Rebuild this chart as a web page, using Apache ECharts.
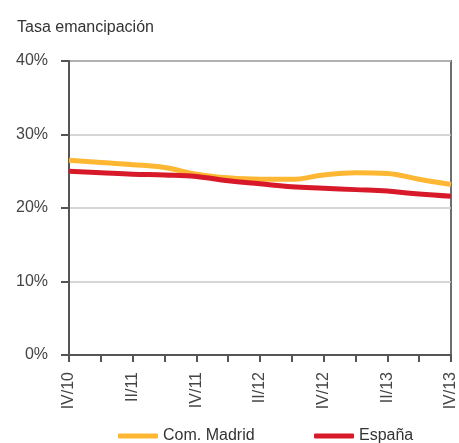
<!DOCTYPE html>
<html>
<head>
<meta charset="utf-8">
<script src="https://cdn.jsdelivr.net/npm/echarts@6/dist/echarts.min.js"></script>
<style>
html,body{margin:0;padding:0;background:#fff;}
#chart{width:459px;height:443px;}
</style>
</head>
<body>
<div id="chart"></div>
<script>
const categories = ['IV/10','I/11','II/11','III/11','IV/11','I/12','II/12','III/12','IV/12','I/13','II/13','III/13','IV/13'];
const madrid = [26.5, 26.2, 25.9, 25.5, 24.6, 24.1, 23.9, 23.9, 24.5, 24.8, 24.7, 23.9, 23.2];
const espana = [25.0, 24.8, 24.6, 24.5, 24.3, 23.7, 23.3, 22.9, 22.7, 22.5, 22.3, 21.9, 21.6];
const yTicks = [0, 10, 20, 30, 40];

const chart = echarts.init(document.getElementById('chart'), null, {renderer: 'canvas'});
const font = '"Liberation Sans", Arial, sans-serif';
const legendText = {fontFamily: font, fontSize: 16, color: '#333'};
chart.setOption({
  animation: false,
  backgroundColor: '#fff',
  title: {
    text: 'Tasa emancipación',
    left: 12, top: 15,
    textStyle: {fontFamily: font, fontSize: 16, fontWeight: 'normal', color: '#333'}
  },
  grid: {
    left: 69, right: 7, top: 61, bottom: 88,
    show: true, borderColor: '#6e6e6e', borderWidth: 2
  },
  legend: [
    {
      top: 423, left: 113,
      icon: 'roundRect', itemWidth: 40, itemHeight: 5,
      textStyle: legendText,
      data: ['Com. Madrid']
    },
    {
      top: 423, left: 309,
      icon: 'roundRect', itemWidth: 40, itemHeight: 5,
      textStyle: legendText,
      data: ['España']
    }
  ],
  xAxis: {
    type: 'category',
    data: categories,
    boundaryGap: false,
    axisLine: {lineStyle: {color: '#555', width: 2}},
    axisTick: {show: true, interval: 0, length: 7, lineStyle: {color: '#555', width: 2}},
    axisLabel: {interval: 1, rotate: 90, margin: 17, fontFamily: font, fontSize: 16, color: '#444'},
    splitLine: {show: false}
  },
  yAxis: {
    type: 'value',
    min: yTicks[0], max: yTicks[yTicks.length - 1], interval: 10,
    axisLine: {show: true, lineStyle: {color: '#555', width: 2}},
    axisTick: {show: true, length: 8, lineStyle: {color: '#555', width: 2}},
    axisLabel: {formatter: '{value}%', margin: 21, fontFamily: font, fontSize: 16, color: '#444'},
    splitLine: {show: true, lineStyle: {color: '#c8c8c8', width: 1.5}}
  },
  series: [
    {
      name: 'Com. Madrid', type: 'line', data: madrid, smooth: 0.4,
      showSymbol: false, symbol: 'none',
      lineStyle: {color: '#FDB733', width: 5},
      itemStyle: {color: '#FDB733'}, z: 3
    },
    {
      name: 'España', type: 'line', data: espana, smooth: 0.4,
      showSymbol: false, symbol: 'none',
      lineStyle: {color: '#D7192A', width: 5},
      itemStyle: {color: '#D7192A'}, z: 4
    }
  ]
});
</script>
</body>
</html>
